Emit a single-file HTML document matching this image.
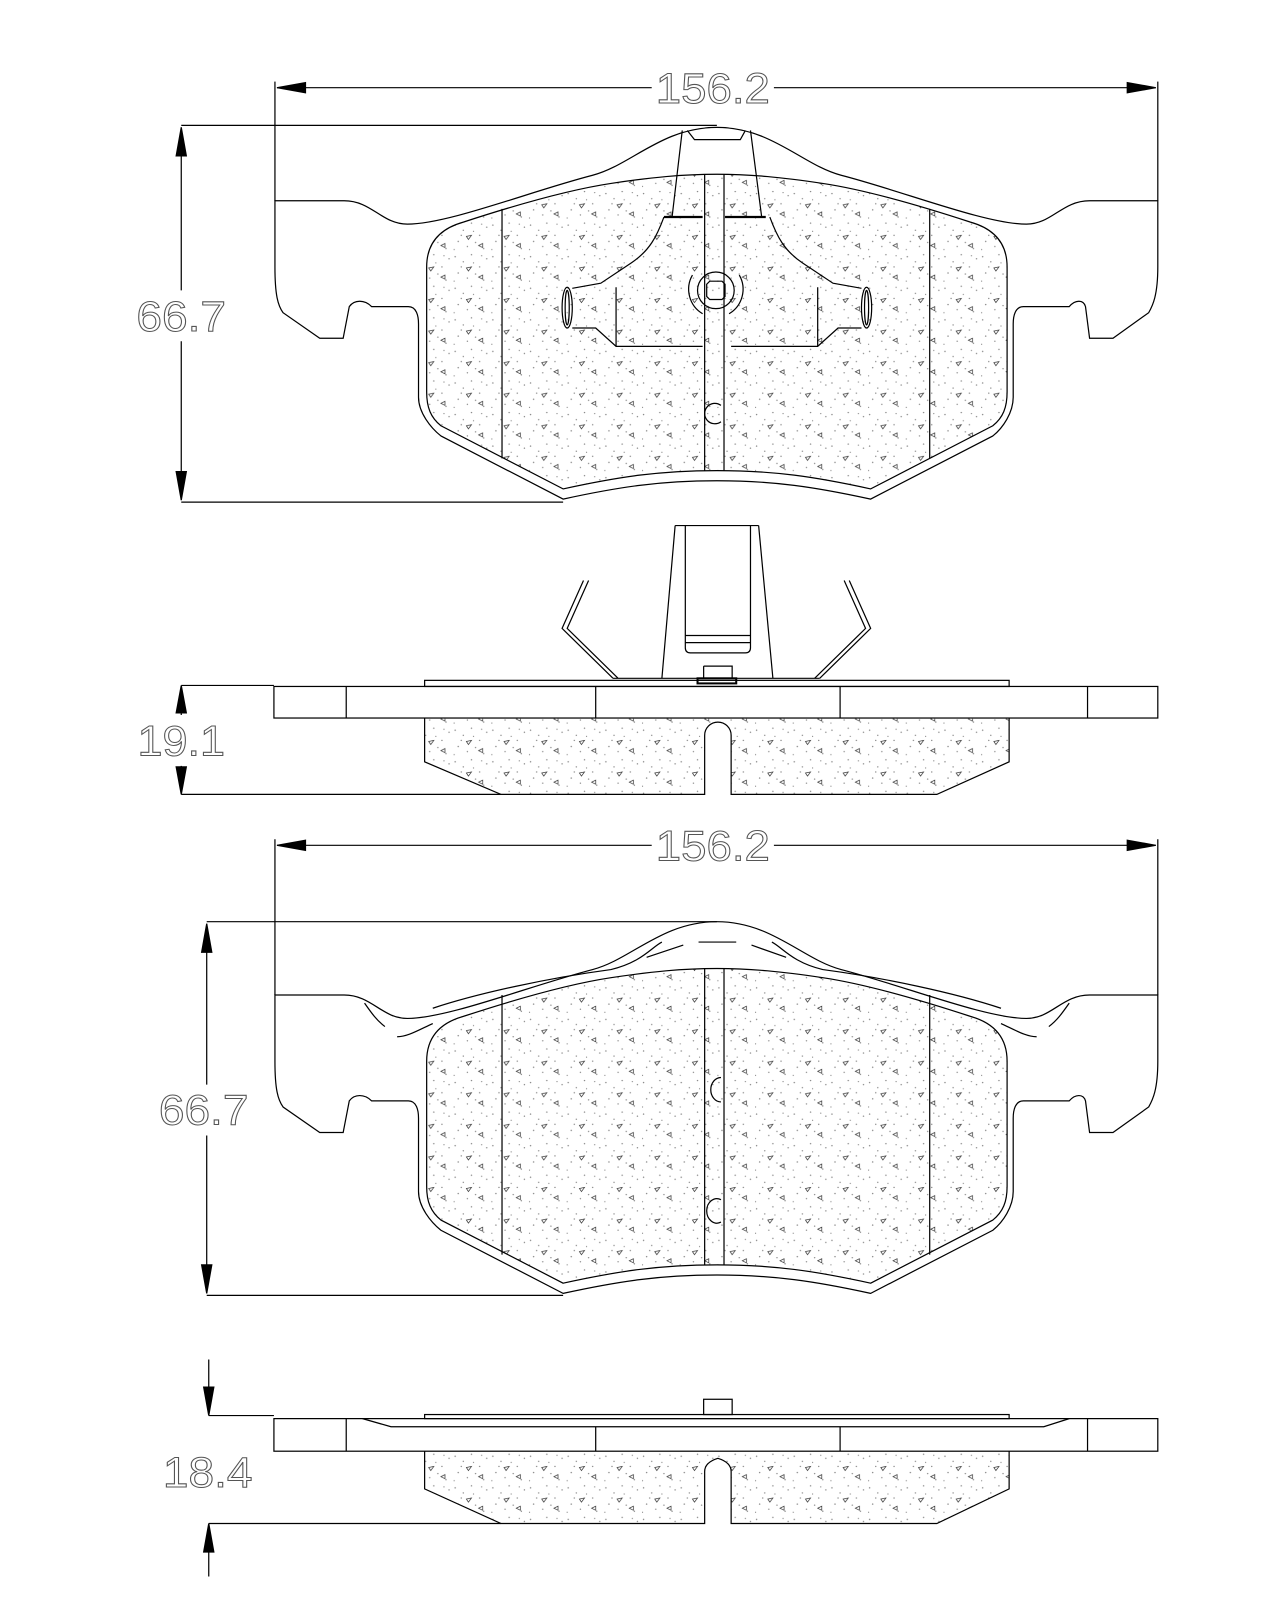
<!DOCTYPE html>
<html><head><meta charset="utf-8"><style>html,body{margin:0;padding:0;background:#fff}svg{display:block}</style></head>
<body>
<svg width="1280" height="1600" viewBox="0 0 1257 1571" xmlns="http://www.w3.org/2000/svg">
<defs>
<pattern id="st" width="37" height="31" patternUnits="userSpaceOnUse">
<g fill="#888"><circle cx="3" cy="4" r=".7"/><circle cx="11" cy="9" r=".7"/><circle cx="19" cy="2" r=".7"/><circle cx="27" cy="14" r=".7"/><circle cx="6" cy="20" r=".7"/><circle cx="15" cy="25" r=".7"/><circle cx="31" cy="27" r=".7"/><circle cx="23" cy="21" r=".7"/><circle cx="34" cy="6" r=".7"/><circle cx="9" cy="14" r=".7"/><circle cx="21" cy="10" r=".6"/><circle cx="29" cy="3" r=".6"/><circle cx="2" cy="28" r=".6"/></g>
<path d="M14,15 l5,-1 -3,4z M30,22 l-4,2 4,2z" stroke="#333" stroke-width=".7" fill="none"/>
</pattern>
<path id="plate" d="M270,197 L338,197 C365,197 375,220 400,220 C440,220 520,188 582,172 C620,162 650,125 704,125 C758,125 788,162 826,172 C888,188 968,220 1008,220 C1033,220 1043,197 1070,197 L1137,197 L1137,262 C1137,290 1132,300 1128,307 L1093,332 L1070,332 L1066,301 C1064,294 1056,294 1050,301 L1005,301 C997,301 995,310 995,318 L995,390 C995,405 985,420 975,428 L855,490 C800,478 760,472 704,472 C648,472 608,478 553,490 L433,428 C423,420 411,405 411,390 L411,318 C411,310 409,301 401,301 L365,301 C358,294 348,294 343,301 L337,332 L314,332 L278,307 C273,300 270,290 270,262 Z"/>
<path id="fric" d="M419,262 C419,240 430,225 455,218 C510,200 560,186 600,180 C640,174 670,171 704,171 C738,171 768,174 808,180 C848,186 898,200 953,218 C978,225 989,240 989,262 L989,385 C989,400 985,410 975,418 L855,480 C800,468 760,462 704,462 C648,462 608,468 553,480 L433,418 C423,410 419,400 419,385 Z"/>
</defs>
<g fill="none" stroke="#000" stroke-width="1.2">

<!-- ===== TOP PAD ===== -->
<line x1="270" y1="80" x2="270" y2="197"/><line x1="1137" y1="80" x2="1137" y2="197"/>
<path d="M272,86 H640 M760,86 H1135"/>
<path d="M272,86 L300,81 L300,91Z M1135,86 L1107,81 L1107,91Z" fill="#000"/>
<path d="M178,123 H704 M178,493 H553"/>
<path d="M178,125 V285 M178,335 V491"/>
<path d="M178,125 L173,153 L183,153Z M178,491 L173,463 L183,463Z" fill="#000"/>
<use href="#plate"/>
<use href="#fric" fill="url(#st)"/>
<path d="M493,205 V450 M913,205 V450 M692,171 V462 M711,171 V462"/>
<!-- clip -->
<path d="M670,128 L660,213 M737,128 L748,213 M675,128 L682,137 L727,137 L732,128"/>
<path d="M652,213 H690 M712,213 H752" stroke-width="2.2"/>
<g id="wing"><path d="M652,213 C645,232 638,246 620,258 L590,278 L562,283 M562,322 L585,322 L605,340 L690,340 M605,282 V340"/><ellipse cx="557" cy="302" rx="5" ry="20"/><ellipse cx="557" cy="302" rx="2" ry="17"/></g>
<use href="#wing" transform="translate(1408,0) scale(-1,1)"/>
<circle cx="703" cy="285" r="18"/>
<path d="M697,276 H709 L712,279 V291 L709,294 H697 L694,291 V279Z"/>
<path d="M680,270 A28,28 0 0,0 690,308 M726,270 A28,28 0 0,1 716,308"/>
<path d="M708,398 A10,10 0 1,0 708,414"/>

<!-- ===== SIDE VIEW 1 ===== -->
<path d="M663,516 H745 M663,516 L650,666 M745,516 L759,666 M673,516 V636 Q673,641 678,641 H732 Q737,641 737,636 V516 M673,624 H737 M673,631 H737 M680,641 H690 M716,641 H727"/>
<path d="M691,654 H719 V666 M691,654 V666"/>
<path d="M602,666 H805 M602,666 L552,617 L573,570 M607,666 L557,617 L578,570"/>
<path d="M805,666 L855,617 L834,570 M800,666 L850,617 L829,570"/>
<rect x="685" y="666" width="38" height="5" stroke-width="2"/>
<rect x="417" y="668" width="574" height="6"/>
<rect x="269" y="674" width="868" height="31"/>
<path d="M340,674 V705 M585,674 V705 M825,674 V705 M1068,674 V705"/>
<path d="M417,705 V748 L492,780 H692 V722 A13,13 0 0,1 718,722 V780 H920 L991,748 V705" fill="url(#st)"/>
<path d="M178,673 H269 M178,780 H492"/>
<path d="M178,675 V702 M178,752 V778"/>
<path d="M178,673 L173,700 L183,700Z M178,780 L173,753 L183,753Z" fill="#000"/>

<!-- ===== BOTTOM PAD ===== -->
<line x1="270" y1="824" x2="270" y2="977"/><line x1="1137" y1="824" x2="1137" y2="977"/>
<path d="M272,830 H640 M760,830 H1135"/>
<path d="M272,830 L300,825 L300,835Z M1135,830 L1107,825 L1107,835Z" fill="#000"/>
<path d="M203,905 H704 M203,1272 H553"/>
<path d="M203,907 V1065 M203,1115 V1270"/>
<path d="M203,907 L198,935 L208,935Z M203,1270 L198,1242 L208,1242Z" fill="#000"/>
<g transform="translate(0,780)">
<use href="#plate"/>
<use href="#fric" fill="url(#st)"/>
<path d="M411,390 V318 M995,318 V390" stroke="none"/>
<path d="M425,210 C470,195 540,180 600,172 C630,165 640,150 650,145 M983,210 C938,195 868,180 808,172 C778,165 768,150 758,145"/>
<path d="M358,205 C365,215 370,222 378,228 M1050,205 C1043,215 1038,222 1030,228 M390,238 C400,238 410,232 425,225 M1018,238 C1008,238 998,232 983,225"/>
<path d="M635,160 L671,148 M686,145 H723 M738,148 L772,160"/>
<path d="M493,197 V452 M913,197 V452 M692,171 V462 M711,171 V462"/>
<path d="M708,278 A10,12 0 1,0 708,302 M708,398 A10,12 0 1,0 708,420"/>
</g>

<!-- ===== SIDE VIEW 2 ===== -->
<rect x="691" y="1374" width="28" height="15"/>
<rect x="417" y="1389" width="574" height="4"/>
<rect x="269" y="1393" width="868" height="32"/>
<path d="M356,1393 L384,1401 H1025 L1050,1393"/>
<path d="M340,1393 V1425 M585,1401 V1425 M825,1401 V1425 M1068,1393 V1425"/>
<path d="M417,1425 V1462 L492,1496 H692 V1445 Q692,1436 705,1432 Q718,1436 718,1445 V1496 H920 L991,1462 V1425" fill="url(#st)"/>
<path d="M205,1390 H269 M205,1496 H492"/>
<path d="M205,1335 V1388 M205,1498 V1548"/>
<path d="M205,1390 L200,1362 L210,1362Z M205,1496 L200,1524 L210,1524Z" fill="#000"/>
</g>

<g font-family="Liberation Sans, sans-serif" font-size="42" fill="none" stroke="#555" stroke-width="1" text-anchor="middle">
<text x="700" y="101" textLength="112" lengthAdjust="spacingAndGlyphs">156.2</text>
<text x="178" y="325" textLength="88" lengthAdjust="spacingAndGlyphs">66.7</text>
<text x="178" y="742" textLength="86" lengthAdjust="spacingAndGlyphs">19.1</text>
<text x="700" y="845" textLength="112" lengthAdjust="spacingAndGlyphs">156.2</text>
<text x="200" y="1104" textLength="88" lengthAdjust="spacingAndGlyphs">66.7</text>
<text x="204" y="1460" textLength="88" lengthAdjust="spacingAndGlyphs">18.4</text>
</g>
</svg>
</body></html>
